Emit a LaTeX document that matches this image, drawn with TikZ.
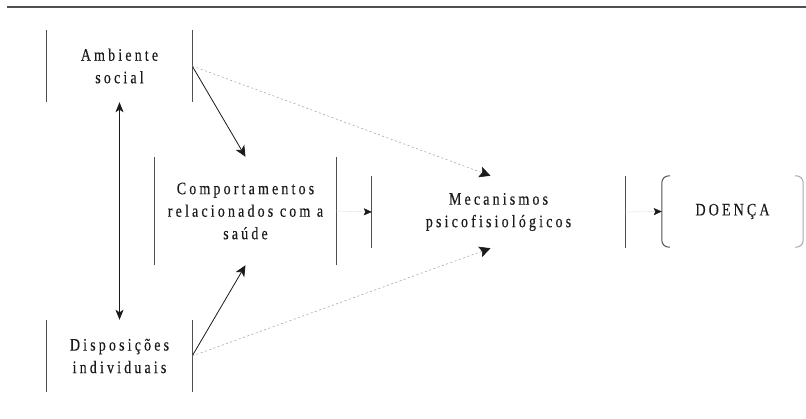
\documentclass[tikz,border=0pt]{standalone}
\usepackage{fontspec}
\setmainfont{Liberation Serif}[FakeStretch=0.8, LetterSpace=18, FakeBold=0.3]
\usetikzlibrary{arrows.meta,calc}

\definecolor{ink}{HTML}{1A1A1A}
\definecolor{sidegray}{HTML}{505050}
\definecolor{faint}{HTML}{A8A8A8}

\tikzset{
  box/.style={rectangle, inner sep=0pt, align=center, text=ink,
              font=\fontsize{17.5}{22.5}\selectfont},
  side/.style={draw=sidegray, line width=1pt},
  link/.style={draw=ink, line width=0.8pt, -{Stealth[length=11pt,width=10pt,inset=3pt]}},
  bilink/.style={draw=ink, line width=1pt,
                 {Stealth[length=10pt,width=8pt,inset=2.5pt]}-{Stealth[length=10pt,width=8pt,inset=2.5pt]}},
  weak/.style={draw=faint, line width=0.6pt, dash pattern=on 2pt off 2.5pt,
               -{Stealth[length=11pt,width=11pt,inset=2pt,color=ink]}},
  short/.style={draw=faint!35, line width=0.4pt,
                -{Stealth[length=8pt,width=7pt,inset=1.5pt,color=ink]}}
}

\begin{document}
\begin{tikzpicture}[x=1pt, y=-1pt]
\useasboundingbox (0,0) rectangle (806,419);

% heading rule
\draw[sidegray, line width=1.4pt] (7,7) -- (806,7);

% boxes
\node[box, minimum width=145, minimum height=72] (amb)  at (119.5,66)  {Ambiente\\social};
\node[box, minimum width=145, minimum height=72] (disp) at (119.5,356) {Disposições\\individuais};
\node[box, minimum width=181, minimum height=108] (comp) at (245.5,211) {Comportamentos\\relacionados com a\\saúde};
\node[box, minimum width=253, minimum height=72] (mec)  at (498.5,212) {Mecanismos\\psicofisiológicos};
\node[box, minimum width=141, minimum height=71] (doe)  at (732.5,211.5) {DOENÇA};

% box sides
\foreach \b in {amb,disp,comp,mec}{
  \draw[side] (\b.north west) -- (\b.south west);
  \draw[side] (\b.north east) -- (\b.south east);
}
\draw[side, rounded corners=7] ($(doe.north west)+(8,0)$) -- (doe.north west)
      -- (doe.south west) -- ($(doe.south west)+(8,0)$);
\draw[side, draw=faint, rounded corners=7] ($(doe.north east)+(-8,0)$) -- (doe.north east)
      -- (doe.south east) -- ($(doe.south east)+(-8,0)$);

% connectors
\draw[bilink] (amb.south) -- (disp.north);
\draw[link] (amb.east) -- (comp.north);
\draw[link] (disp.east) -- (comp.south);
\draw[weak] (amb.east) -- ([xshift=-8]mec.north);
\draw[weak] (disp.east) -- ([xshift=-8]mec.south);
\draw[short] (comp.east) -- (mec.west);
\draw[short] (mec.east) -- (doe.west);
\end{tikzpicture}
\end{document}
